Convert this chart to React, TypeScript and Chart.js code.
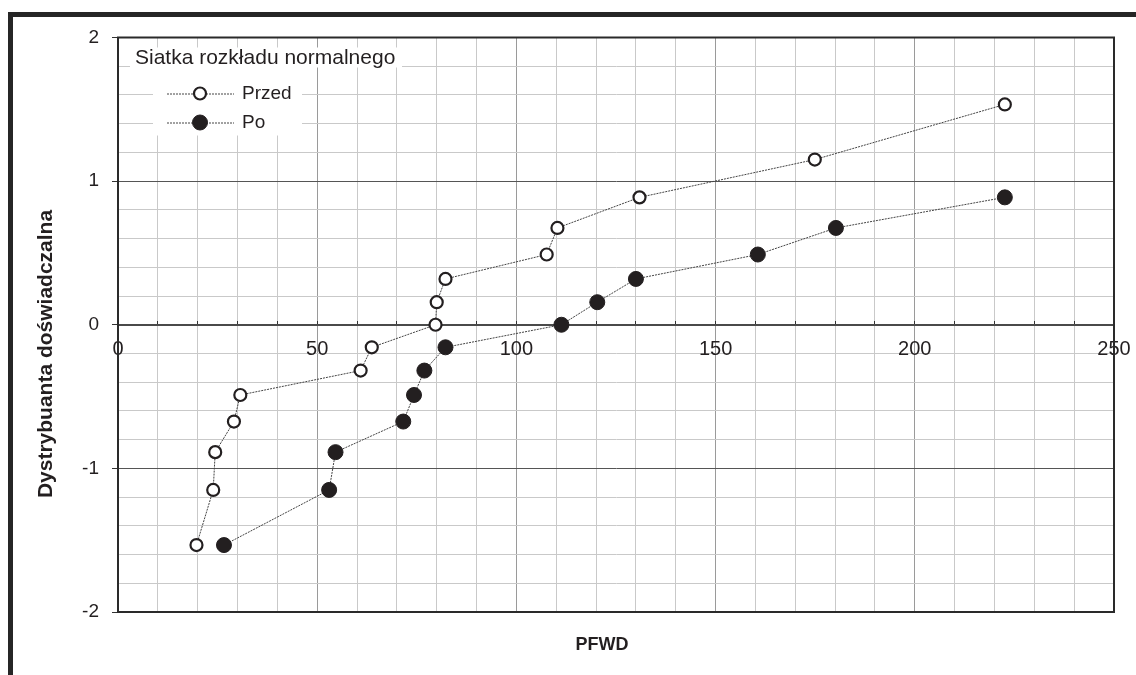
import React, { useEffect, useRef } from 'react';
import { Chart, registerables } from 'chart.js';

Chart.register(...registerables);

const FONT = '"Liberation Sans", Arial, Helvetica, sans-serif';

// Normal-probability grid (empirical distribution quantiles)
const quantiles = [-1.534, -1.15, -0.887, -0.674, -0.489, -0.319, -0.157, 0, 0.157, 0.319, 0.489, 0.674, 0.887, 1.15, 1.534];

const przedX = [19.7, 23.9, 24.4, 29.1, 30.7, 60.9, 63.7, 79.7, 80.0, 82.2, 107.6, 110.3, 130.9, 174.9, 222.6];
const przedY = quantiles.slice(0, 15);

const poX = [26.6, 53.0, 54.6, 71.6, 74.3, 76.9, 82.2, 111.3, 120.3, 130.0, 160.6, 180.2, 222.6];
const poY = quantiles.slice(0, 13);

const seriesLabels = ['Przed', 'Po'];
const legendTitle = 'Siatka rozkładu normalnego';
const xTitle = 'PFWD';
const yTitle = 'Dystrybuanta doświadczalna';
const xTickLabels = [0, 50, 100, 150, 200, 250];
const yTickLabels = [-2, -1, 0, 1, 2];

const INK = '#231f20';

const isInt = (v: number) => Math.abs(v - Math.round(v)) < 1e-6;

const decorPlugin = {
  id: 'decor',
  beforeDraw(chart: any) {
    const { ctx, width, height } = chart;
    ctx.save();
    ctx.fillStyle = '#ffffff';
    ctx.fillRect(0, 0, width, height);
    // outer thick frame (cropped at right/bottom)
    ctx.fillStyle = '#262626';
    ctx.fillRect(8, 12, width - 8, 5);
    ctx.fillRect(8, 12, 5, height - 12);
    ctx.restore();
  },
  beforeDatasetsDraw(chart: any) {
    const { ctx, chartArea } = chart;
    ctx.save();
    ctx.strokeStyle = '#2a2a2a';
    ctx.lineWidth = 2;
    ctx.strokeRect(chartArea.left, chartArea.top, chartArea.right - chartArea.left, chartArea.bottom - chartArea.top);
    ctx.restore();
  },
  afterDraw(chart: any) {
    const { ctx, chartArea } = chart;
    const L = chartArea.left;
    const T = chartArea.top;
    ctx.save();
    // legend backgrounds
    ctx.fillStyle = '#ffffff';
    ctx.fillRect(L + 12, T + 10, 272, 20);
    ctx.fillRect(L + 35, T + 29, 149, 69);
    // legend title
    ctx.fillStyle = INK;
    ctx.font = `21px ${FONT}`;
    ctx.textBaseline = 'alphabetic';
    ctx.textAlign = 'left';
    ctx.fillText(legendTitle, L + 17, T + 26.5);
    // legend rows
    const rowsY = [T + 56, T + 85];
    chart.data.datasets.forEach((ds: any, i: number) => {
      const cy = rowsY[i];
      ctx.strokeStyle = '#444';
      ctx.lineWidth = 1;
      ctx.setLineDash([2, 1]);
      ctx.beginPath();
      ctx.moveTo(L + 49, cy + 0.5);
      ctx.lineTo(L + 116, cy + 0.5);
      ctx.stroke();
      ctx.setLineDash([]);
      ctx.beginPath();
      ctx.arc(L + 82, cy, ds.pointRadius, 0, Math.PI * 2);
      ctx.fillStyle = ds.pointBackgroundColor;
      ctx.fill();
      ctx.lineWidth = ds.pointBorderWidth;
      ctx.strokeStyle = ds.pointBorderColor;
      ctx.stroke();
      ctx.fillStyle = INK;
      ctx.font = `19px ${FONT}`;
      ctx.textBaseline = 'middle';
      ctx.fillText(ds.label, L + 124, cy);
    });
    // axis titles
    ctx.fillStyle = INK;
    ctx.font = `bold 18px ${FONT}`;
    ctx.textAlign = 'center';
    ctx.textBaseline = 'middle';
    ctx.fillText(xTitle, 602, 645);
    ctx.save();
    ctx.translate(46, 354);
    ctx.rotate(-Math.PI / 2);
    ctx.font = `bold 21px ${FONT}`;
    ctx.fillText(yTitle, 0, 0);
    ctx.restore();
    ctx.restore();
  },
};

export default function App() {
  const ref = useRef<HTMLCanvasElement | null>(null);

  useEffect(() => {
    document.body.style.margin = '0';
    const canvas = ref.current;
    if (!canvas) return;
    const chart = new Chart(canvas, {
      type: 'scatter',
      data: {
        datasets: [
          {
            label: seriesLabels[0],
            data: przedX.map((x, i) => ({ x, y: przedY[i] })),
            showLine: true,
            borderColor: '#444',
            borderWidth: 1,
            borderDash: [2, 1],
            pointRadius: 6,
            pointBorderWidth: 2.2,
            pointBorderColor: INK,
            pointBackgroundColor: '#ffffff',
          },
          {
            label: seriesLabels[1],
            data: poX.map((x, i) => ({ x, y: poY[i] })),
            showLine: true,
            borderColor: '#444',
            borderWidth: 1,
            borderDash: [2, 1],
            pointRadius: 7.5,
            pointBorderWidth: 1,
            pointBorderColor: INK,
            pointBackgroundColor: INK,
          },
        ],
      },
      options: {
        responsive: false,
        devicePixelRatio: 1,
        animation: false,
        events: [],
        layout: { padding: { left: 0, top: 37.5, right: 22, bottom: 63 } },
        plugins: {
          legend: { display: false },
          tooltip: { enabled: false },
          title: { display: false },
        },
        scales: {
          x: {
            type: 'linear',
            min: 0,
            max: 250,
            position: { y: 0 },
            afterFit: (s: any) => {
              s.height = 0;
              s.paddingLeft = 0;
              s.paddingRight = 0;
            },
            ticks: {
              stepSize: 10,
              autoSkip: false,
              maxRotation: 0,
              padding: 17.5,
              color: INK,
              font: { size: 20, family: FONT },
              callback: (v: any) => (xTickLabels.includes(Number(v)) ? String(v) : ''),
            },
            grid: {
              color: (c: any) => {
                const v = c.tick ? c.tick.value : 0;
                if (v === 0 || v === 250) return 'rgba(0,0,0,0)';
                return v % 50 === 0 ? '#9a9a9a' : '#c9c9c9';
              },
              lineWidth: 1,
              tickLength: -5,
              tickColor: '#333',
            },
            border: { color: '#4a4a4a', width: 2 },
          },
          y: {
            type: 'linear',
            min: -2,
            max: 2,
            position: 'left',
            afterFit: (s: any) => {
              s.width = 118;
              s.paddingTop = 0;
              s.paddingBottom = 0;
            },
            ticks: {
              stepSize: 0.2,
              autoSkip: false,
              padding: 13,
              color: INK,
              font: { size: 19, family: FONT },
              callback: (v: any) => {
                const n = Number(v);
                if (!isInt(n)) return '';
                const r = Math.round(n);
                return yTickLabels.includes(r) ? String(r) : '';
              },
            },
            grid: {
              color: (c: any) => {
                const v = c.tick ? c.tick.value : 0;
                if (isInt(v)) {
                  if (Math.abs(Math.round(v)) === 2) return 'rgba(0,0,0,0)';
                  return '#555555';
                }
                return '#c9c9c9';
              },
              lineWidth: 1,
              tickLength: 6,
              tickColor: (c: any) => (c.tick && isInt(c.tick.value) ? '#333' : 'rgba(0,0,0,0)'),
            },
            border: { color: '#2a2a2a', width: 2 },
          },
        },
      },
      plugins: [decorPlugin],
    } as any);
    return () => chart.destroy();
  }, []);

  return (
    <div style={{ width: 1136, height: 675 }}>
      <canvas ref={ref} width={1136} height={675} style={{ display: 'block' }} />
    </div>
  );
}
